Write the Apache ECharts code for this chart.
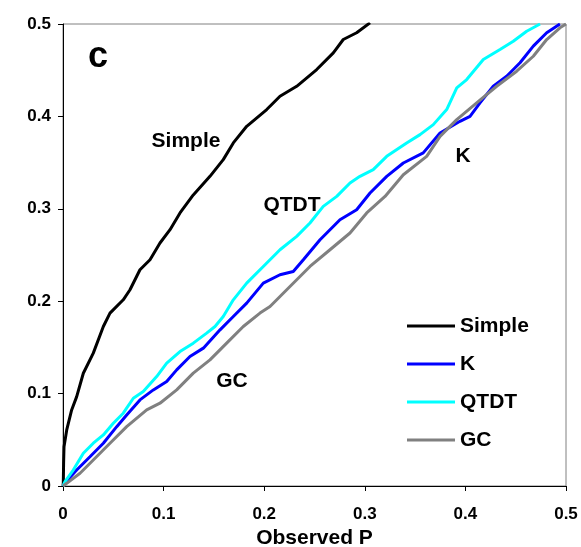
<!DOCTYPE html>
<html>
<head>
<meta charset="utf-8">
<script src="https://cdn.jsdelivr.net/npm/echarts@6/dist/echarts.min.js"></script>
<style>html,body{margin:0;padding:0;background:#fff}#c{width:581px;height:547px}</style>
</head>
<body>
<div id="c"></div>
<script>
// Axis ticks
const xTicks = [0, 0.1, 0.2, 0.3, 0.4, 0.5];
const yTicks = [0, 0.1, 0.2, 0.3, 0.4, 0.5];
const seriesNames = ['Simple', 'K', 'QTDT', 'GC'];

// Observed P (x) vs expected (y)
const simpleData = [
  [0,0],[0.0003,0.003],[0.0006,0.025],[0.001,0.0426],[0.0037,0.0607],[0.0086,0.0823],[0.0136,0.0967],
  [0.0202,0.122],[0.0301,0.1438],[0.0401,0.1726],[0.0467,0.1871],[0.0599,0.2015],[0.0666,0.2124],
  [0.0765,0.234],[0.0865,0.2449],[0.0964,0.263],[0.1064,0.2774],[0.1163,0.2955],[0.1295,0.315],
  [0.1461,0.3351],[0.1593,0.3532],[0.1693,0.3713],[0.1826,0.3893],[0.2025,0.4074],[0.2157,0.4218],
  [0.2323,0.4326],[0.2522,0.4507],[0.2687,0.4688],[0.2786,0.4832],[0.2919,0.4905],[0.3052,0.5013]
];
const kData = [
  [0,0],[0.002,0.0036],[0.0136,0.0173],[0.0268,0.0317],[0.0401,0.0463],[0.0534,0.0642],[0.0633,0.0769],
  [0.0765,0.0932],[0.0898,0.104],[0.1031,0.113],[0.113,0.1257],[0.1262,0.1401],[0.1395,0.1492],
  [0.1561,0.169],[0.1693,0.1834],[0.1826,0.1979],[0.1991,0.2196],[0.2157,0.2286],[0.2289,0.2322],
  [0.2389,0.2449],[0.2555,0.2665],[0.2753,0.2882],[0.2919,0.299],[0.3052,0.3171],[0.3218,0.3351],
  [0.3383,0.3496],[0.3581,0.3605],[0.3748,0.3821],[0.3946,0.3947],[0.4046,0.4001],[0.4145,0.4146],
  [0.4277,0.4326],[0.441,0.4434],[0.4543,0.458],[0.4675,0.476],[0.4808,0.4905],[0.494,0.5]
];
const qtdtData = [
  [0,0],[0.002,0.0047],[0.0102,0.0173],[0.0202,0.0354],[0.0301,0.0463],[0.0401,0.0553],[0.05,0.0679],
  [0.0599,0.0788],[0.0699,0.095],[0.0798,0.1022],[0.0931,0.1184],[0.1031,0.1329],[0.1163,0.1455],
  [0.1295,0.1546],[0.1428,0.1654],[0.1511,0.1726],[0.1593,0.1834],[0.1693,0.2015],[0.1826,0.2196],
  [0.1991,0.2376],[0.2157,0.2557],[0.2323,0.2701],[0.2455,0.2846],[0.2587,0.3026],[0.2721,0.3134],
  [0.2853,0.328],[0.2952,0.3351],[0.3084,0.3424],[0.3218,0.3568],[0.3416,0.3713],[0.3549,0.3803],
  [0.3681,0.3911],[0.3814,0.4074],[0.3914,0.4309],[0.4013,0.4399],[0.4178,0.4615],[0.4344,0.4724],
  [0.4476,0.4814],[0.4609,0.4922],[0.4742,0.5]
];
const gcData = [
  [0,0],[0.0037,0.0029],[0.0169,0.0138],[0.0301,0.0282],[0.0467,0.0463],[0.0633,0.0642],[0.0832,0.0823],
  [0.0964,0.0896],[0.113,0.104],[0.1295,0.1221],[0.1461,0.1365],[0.1627,0.1546],[0.1792,0.1726],
  [0.1958,0.1871],[0.2058,0.1943],[0.2224,0.2124],[0.2455,0.2376],[0.2654,0.2557],[0.2853,0.2738],
  [0.3019,0.2955],[0.3201,0.3134],[0.3383,0.3369],[0.3615,0.3568],[0.3748,0.3784],[0.3914,0.3965],
  [0.4112,0.4146],[0.4311,0.4326],[0.451,0.4489],[0.4675,0.4651],[0.4808,0.4832],[0.494,0.4959],[0.5,0.5]
];
const seriesColors = ['#000000', '#0000ff', '#00ffff', '#808080'];
const seriesData = [simpleData, kData, qtdtData, gcData];

const FONT = '"Liberation Sans", Arial, sans-serif';
const chart = echarts.init(document.getElementById('c'), null, {renderer: 'canvas'});

const axisCommon = {
  type: 'value', min: 0, max: 0.5, interval: 0.1,
  splitLine: {show: false},
  axisLine: {show: true, lineStyle: {color: '#000', width: 1}},
  axisTick: {show: true, inside: false, length: 5, lineStyle: {color: '#000', width: 1}},
  axisLabel: {color: '#000', fontFamily: FONT, fontWeight: 'bold', fontSize: 17},
};

chart.setOption({
  animation: false,
  backgroundColor: '#fff',
  grid: {left: 63, right: 15, top: 24, bottom: 61, show: true, borderColor: '#808080', borderWidth: 1,
         containLabel: false, outerBoundsMode: 'none'},
  xAxis: Object.assign({}, axisCommon, {
    name: 'Observed P', nameLocation: 'middle', nameGap: 38,
    nameTextStyle: {color: '#000', fontFamily: FONT, fontWeight: 'bold', fontSize: 21},
    axisLabel: Object.assign({}, axisCommon.axisLabel, {margin: 20})
  }),
  yAxis: Object.assign({}, axisCommon, {
    axisLabel: Object.assign({}, axisCommon.axisLabel, {margin: 12})
  }),
  legend: {
    orient: 'vertical', left: 407, top: 315, padding: 0,
    icon: 'rect', itemWidth: 48, itemHeight: 3, itemGap: 16,
    textStyle: {color: '#000', fontFamily: FONT, fontWeight: 'bold', fontSize: 21, lineHeight: 22},
    data: seriesNames
  },
  graphic: [
    {type: 'text', left: 88, top: 39, style: {text: 'c', fill: '#000', font: 'bold 36px ' + FONT}},
    {type: 'text', x: 186, y: 141, style: {text: 'Simple', fill: '#000', font: 'bold 21px ' + FONT, align: 'center', verticalAlign: 'middle'}},
    {type: 'text', x: 292, y: 205, style: {text: 'QTDT', fill: '#000', font: 'bold 21px ' + FONT, align: 'center', verticalAlign: 'middle'}},
    {type: 'text', x: 232, y: 381, style: {text: 'GC', fill: '#000', font: 'bold 21px ' + FONT, align: 'center', verticalAlign: 'middle'}},
    {type: 'text', x: 463, y: 156, style: {text: 'K', fill: '#000', font: 'bold 21px ' + FONT, align: 'center', verticalAlign: 'middle'}}
  ],
  series: seriesNames.map((n, i) => ({
    name: n, type: 'line', data: seriesData[i], showSymbol: false, symbol: 'none',
    color: seriesColors[i],
    lineStyle: {color: seriesColors[i], width: 3},
    itemStyle: {color: seriesColors[i]},
    clip: true
  }))
});
</script>
</body>
</html>
